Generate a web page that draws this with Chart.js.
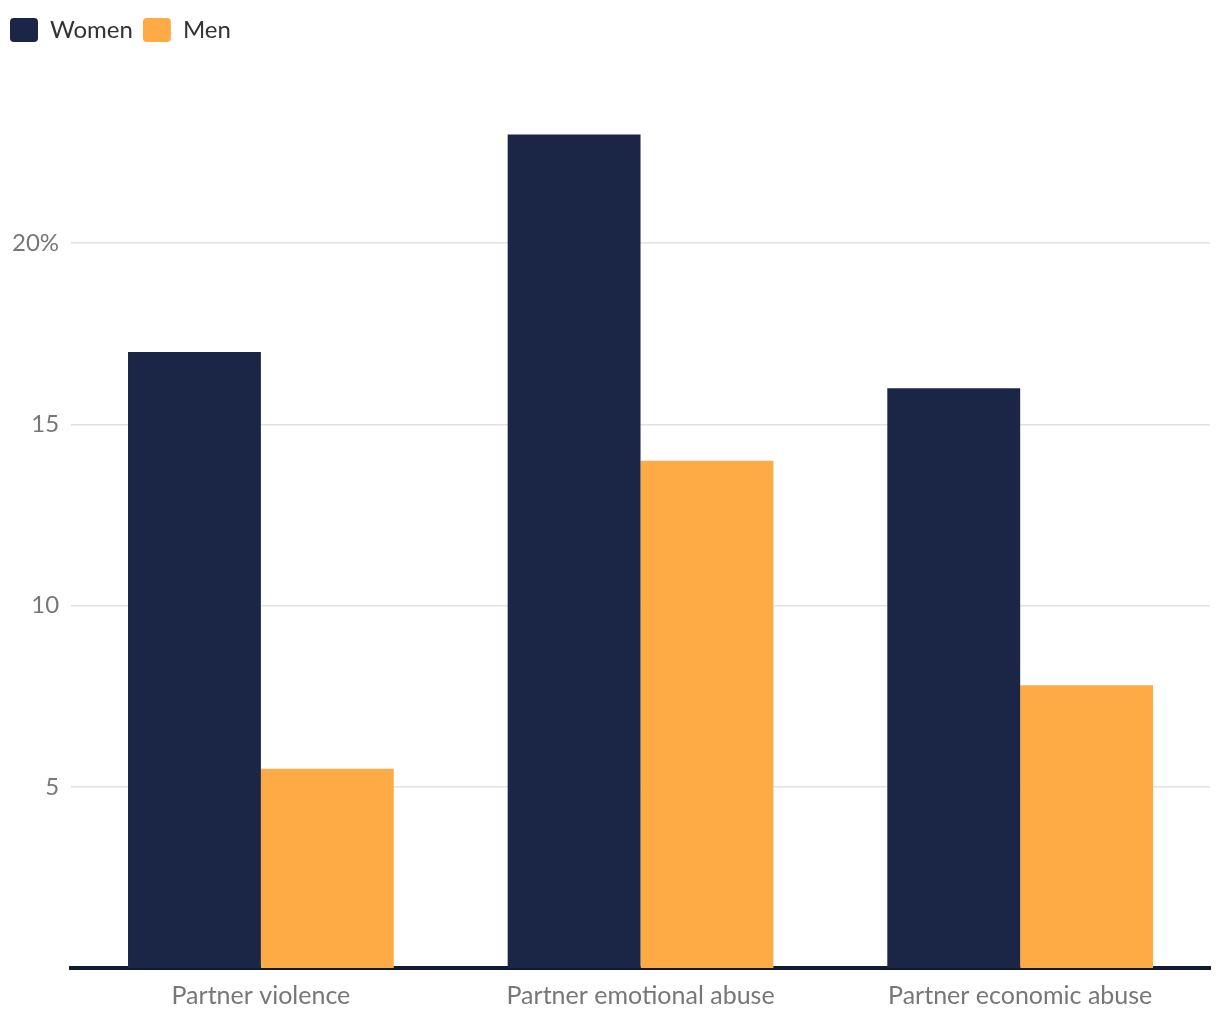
<!DOCTYPE html>
<html>
<head>
<meta charset="utf-8">
<script src="https://cdn.jsdelivr.net/npm/chart.js@4"></script>
<style>
body{margin:0;background:#fff;}
#box{width:1220px;height:1020px;}
</style>
</head>
<body>
<div id="box"><canvas id="grafica"></canvas></div>
<script>
const categorias=['Partner violence','Partner emotional abuse','Partner economic abuse'];
const mujeres=[17,23,16];
const hombres=[5.5,14,7.8];
const marcas=[5,10,15,20];

const gris='#777777';

// espacio extra debajo de la leyenda
const espacioLeyenda={
    id:'espacioLeyenda',
    beforeInit(chart){
        const fit=chart.legend.fit;
        chart.legend.fit=function(){
            fit.bind(chart.legend)();
            this.height+=10;
        };
    }
};

new Chart(document.getElementById('grafica'),{
    type:'bar',
    data:{
        labels:categorias,
        datasets:[
            {label:'Women',data:mujeres,backgroundColor:'#1b2646'},
            {label:'Men',data:hombres,backgroundColor:'#ffab45'}
        ]
    },
    options:{
        responsive:true,
        maintainAspectRatio:false,
        animation:false,
        layout:{padding:{top:8,right:10,bottom:4,left:0}},
        datasets:{bar:{categoryPercentage:0.7,barPercentage:1}},
        plugins:{
            tooltip:{enabled:false},
            legend:{
                align:'start',
                labels:{
                    boxWidth:28,boxHeight:24,useBorderRadius:true,borderRadius:4,
                    color:'#333',
                    font:{family:'Lato',size:24},
                    padding:10
                }
            }
        },
        scales:{
            x:{
                grid:{display:false},
                border:{color:'#0f1a33',width:4},
                ticks:{color:gris,font:{family:'Lato',size:25},padding:5}
            },
            y:{
                min:0,max:25,
                afterBuildTicks:s=>{s.ticks=marcas.map(v=>({value:v}));},
                grid:{color:'#e2e2e2',drawTicks:false,lineWidth:1.5},
                border:{display:false},
                ticks:{
                    color:gris,font:{family:'Lato',size:24},padding:12,
                    callback:v=>v===20?'20%':v
                }
            }
        }
    },
    plugins:[espacioLeyenda]
});
</script>
</body>
</html>
